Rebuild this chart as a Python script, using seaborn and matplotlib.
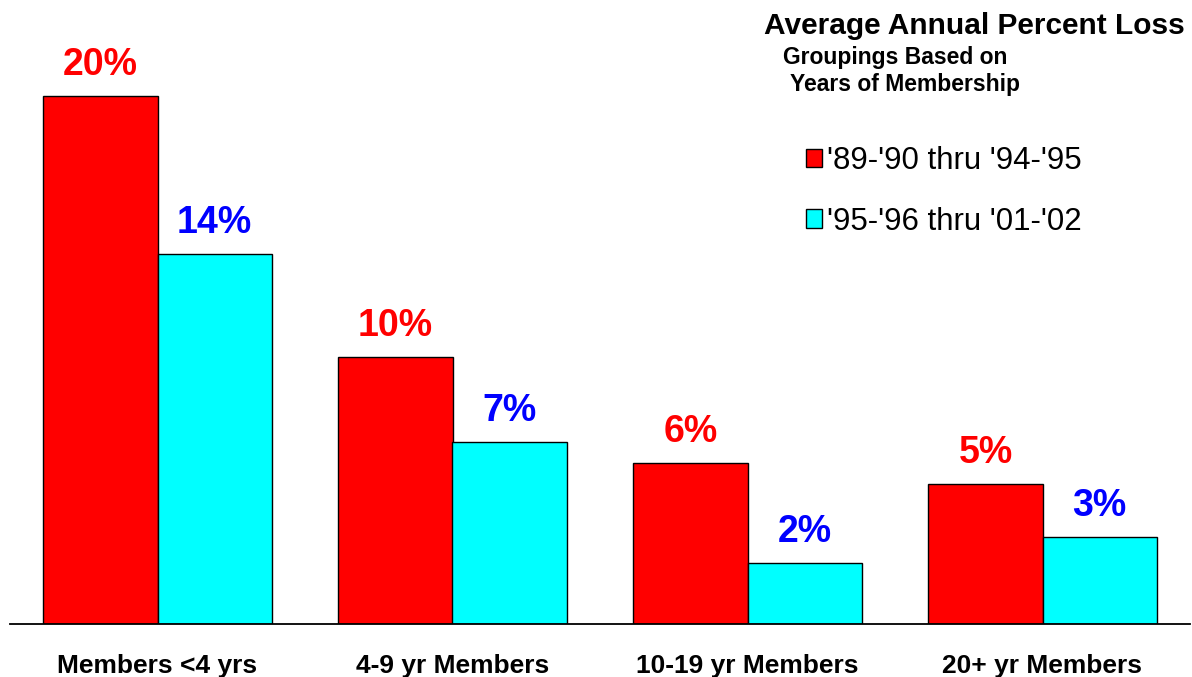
import pandas as pd
import matplotlib.pyplot as plt
import seaborn as sns

groups = ['Members <4 yrs', '4-9 yr Members', '10-19 yr Members', '20+ yr Members']
periods = ["'89-'90 thru '94-'95", "'95-'96 thru '01-'02"]
loss_early = [20.0, 10.1, 6.1, 5.3]
loss_late = [14.0, 6.9, 2.3, 3.3]
colors = ['#FF0000', '#00FFFF']
label_colors = ['#FF0000', '#0000FF']

df = pd.DataFrame({
    'Group': groups * 2,
    'Period': [periods[0]] * 4 + [periods[1]] * 4,
    'Loss': loss_early + loss_late,
})

sns.set_style('white')
plt.rcParams['font.family'] = ['Liberation Sans', 'DejaVu Sans']
plt.rcParams['text.color'] = 'black'
plt.rcParams['xtick.color'] = 'black'

fig = plt.figure(figsize=(11.92, 6.77), dpi=100)
ax = fig.add_axes([10 / 1192, 53 / 677, 1180 / 1192, 624 / 677])

sns.barplot(data=df, x='Group', y='Loss', hue='Period', palette=colors,
            width=0.773, edgecolor='black', linewidth=1, saturation=1, ax=ax)

ax.set_xlim(-0.5, 3.5)
ax.set_ylim(0, 23.64)
ax.set_xlabel('')
ax.set_ylabel('')
ax.set_yticks([])
for s in ['top', 'right', 'left']:
    ax.spines[s].set_visible(False)
ax.spines['bottom'].set_color('black')
ax.spines['bottom'].set_linewidth(1.3)
ax.tick_params(axis='x', length=0, pad=21.5, labelsize=19, labelcolor='black')
for t in ax.get_xticklabels():
    t.set_fontweight('bold')

for cont, c in zip(ax.containers, label_colors):
    ax.bar_label(cont, labels=[f'{b.get_height():.0f}%' for b in cont],
                 padding=9.5, color=c, fontsize=27, fontweight='bold')

sns.move_legend(ax, 'upper left', bbox_to_anchor=(806 / 1192, 1 - 146 / 677),
                bbox_transform=fig.transFigure, frameon=False, title=None,
                fontsize=22.5, handlelength=0.52, handleheight=0.52,
                handletextpad=0.16, labelspacing=0.98, borderpad=0, borderaxespad=0)

fig.text(1185 / 1192, 1 - 34 / 677, 'Average Annual Percent Loss', ha='right',
         va='baseline', fontsize=21.5, fontweight='bold')
fig.text(783 / 1192, 1 - 64 / 677, 'Groupings Based on', ha='left',
         va='baseline', fontsize=16.5, fontweight='bold')
fig.text(790 / 1192, 1 - 91 / 677, 'Years of Membership', ha='left',
         va='baseline', fontsize=16.5, fontweight='bold')

plt.savefig('out.png', dpi=100)
